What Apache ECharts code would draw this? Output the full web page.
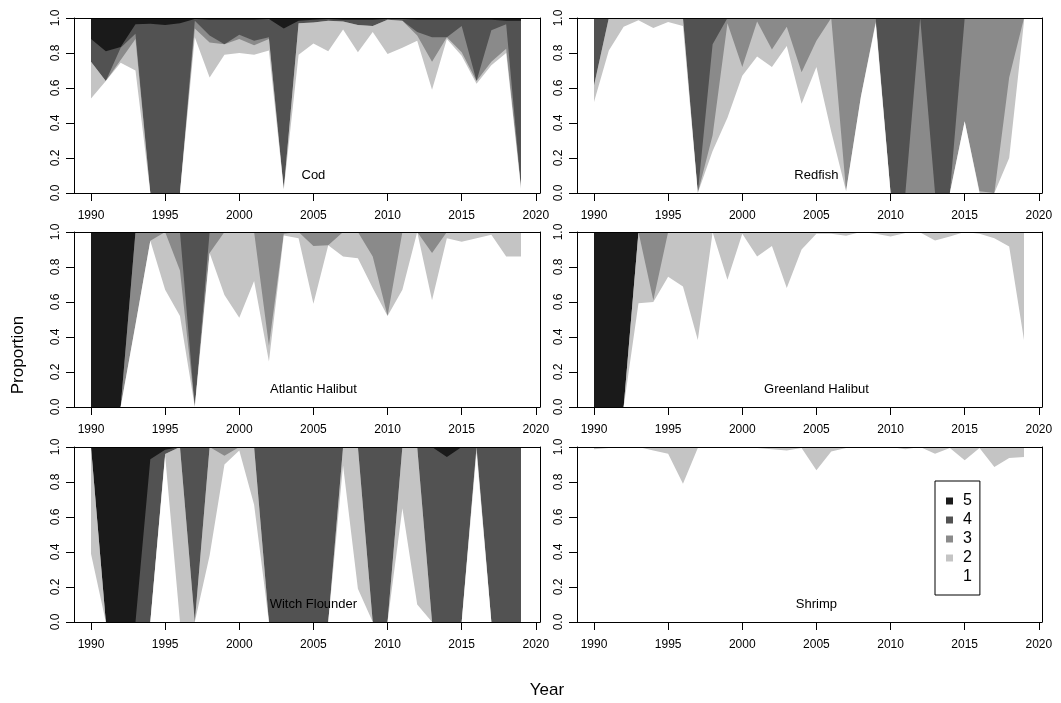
<!DOCTYPE html>
<html>
<head>
<meta charset="utf-8">
<script src="https://cdn.jsdelivr.net/npm/echarts@6/dist/echarts.min.js"></script>
<style>
  html, body { margin: 0; padding: 0; background: #ffffff; }
  #chart { width: 1061px; height: 703px; }
</style>
</head>
<body>
<div id="chart"></div>
<script>
// Years and axis ticks
const years = [1990,1991,1992,1993,1994,1995,1996,1997,1998,1999,2000,2001,2002,2003,2004,
               2005,2006,2007,2008,2009,2010,2011,2012,2013,2014,2015,2016,2017,2018,2019];
const xTicks = [1990,1995,2000,2005,2010,2015,2020];
const stageNames = ['1','2','3','4','5'];
const stageColors = ['#ffffff','#c4c4c4','#8a8a8a','#525252','#1a1a1a'];

// Proportion of each stage (1..5) per year
const codS1 = [.54,.64,.745,.70,0,0,0,.89,.66,.79,.80,.79,.815,.02,.79,.855,.81,.935,.805,.92,.795,.83,.87,.59,.88,.785,.625,.73,.80,.025];
const codS2 = [.21,0,.015,.18,0,0,0,.05,.20,.06,.08,.055,.065,0,.18,.12,.175,.045,.155,.035,.195,.155,.03,.16,.01,.02,.015,.02,.025,.005];
const codS3 = [0,0,.07,.03,0,0,0,.045,.04,0,.025,.025,.01,0,0,0,0,0,0,0,0,0,.02,.14,0,.15,0,.18,.14,0];
const codS4 = [.13,.17,.005,.055,.967,.96,.97,.01,.09,.14,.085,.12,.105,.92,.015,.015,.01,.01,.03,.035,.005,.01,.07,.10,.10,.035,.35,.06,.02,.955];
const codS5 = [.12,.19,.165,.035,.033,.04,.03,.005,.01,.01,.01,.01,.005,.06,.015,.01,.005,.01,.01,.01,.005,.005,.01,.01,.01,.01,.01,.01,.015,.015];

const redS1 = [.52,.815,.95,.987,.943,.977,.954,0,.24,.43,.67,.78,.72,.84,.51,.72,.35,.01,.55,.97,0,0,0,0,0,.41,0,0,.20,.98];
const redS2 = [.095,.185,.05,.013,.057,.023,.046,0,.09,.54,.05,.20,.10,.11,.18,.15,.65,0,0,.01,0,0,0,0,0,0,.01,0,.46,.02];
const redS3 = [0,0,0,0,0,0,0,0,.52,.03,.28,.02,.18,.05,.31,.13,0,.99,.45,.02,0,0,1,0,0,.59,.99,1,.34,0];
const redS4 = [.385,0,0,0,0,0,0,1,.15,0,0,0,0,0,0,0,0,0,0,0,1,1,0,1,1,0,0,0,0,0];
const redS5 = [0,0,0,0,0,0,0,0,0,0,0,0,0,0,0,0,0,0,0,0,0,0,0,0,0,0,0,0,0,0];

const atlS1 = [0,0,0,.47,.95,.67,.52,0,.88,.64,.51,.72,.26,.98,.965,.59,.925,.86,.85,.68,.52,.67,1,.61,.965,.945,.965,.985,.86,.86];
const atlS2 = [0,0,0,0,0,.33,.26,0,0,.36,.49,.28,.09,.01,.035,.33,0,.14,.15,.18,0,.33,0,.27,.035,.055,.035,.015,.14,.14];
const atlS3 = [0,0,0,.53,.05,0,.22,0,.12,0,0,0,.65,.01,0,.08,.075,0,0,.14,.48,0,0,.12,0,0,0,0,0,0];
const atlS4 = [0,0,0,0,0,0,0,1,0,0,0,0,0,0,0,0,0,0,0,0,0,0,0,0,0,0,0,0,0,0];
const atlS5 = [1,1,1,0,0,0,0,0,0,0,0,0,0,0,0,0,0,0,0,0,0,0,0,0,0,0,0,0,0,0];

const grlS1 = [0,0,0,.593,.60,.745,.688,.383,.998,.727,.99,.86,.92,.68,.90,.99,.99,.978,1,.99,.975,.995,.997,.952,.975,1,.99,.965,.917,.383];
const grlS2 = [0,0,0,.407,.01,.255,.312,.617,.002,.273,.01,.14,.08,.32,.10,.01,.01,.022,0,.01,.025,.005,.003,.048,.025,0,.01,.035,.083,.617];
const grlS3 = [0,0,0,0,.39,0,0,0,0,0,0,0,0,0,0,0,0,0,0,0,0,0,0,0,0,0,0,0,0,0];
const grlS4 = [0,0,0,0,0,0,0,0,0,0,0,0,0,0,0,0,0,0,0,0,0,0,0,0,0,0,0,0,0,0];
const grlS5 = [1,1,1,0,0,0,0,0,0,0,0,0,0,0,0,0,0,0,0,0,0,0,0,0,0,0,0,0,0,0];

const witS1 = [.39,0,0,0,0,.95,0,0,.38,.90,.98,.67,0,0,0,0,0,.895,.19,0,0,.65,.10,0,0,0,.97,0,0,0];
const witS2 = [.61,0,0,0,0,.01,1,0,.62,.05,.02,.33,0,0,0,0,0,.105,.81,0,0,.35,.90,0,0,0,.03,0,0,0];
const witS3 = [0,0,0,0,0,0,0,0,0,.05,0,0,0,0,0,0,0,0,0,0,0,0,0,0,0,0,0,0,0,0];
const witS4 = [0,0,0,0,.93,.025,0,1,0,0,0,0,1,1,1,1,1,0,0,1,1,0,0,1,.943,1,0,1,1,1];
const witS5 = [0,1,1,1,.07,.015,0,0,0,0,0,0,0,0,0,0,0,0,0,0,0,0,0,0,.057,0,0,0,0,0];

const shrS1 = [.987,.995,1,1,.98,.962,.79,.995,.995,1,1,.995,.987,.98,.995,.867,.975,.995,1,1,1,.987,1,.962,.995,.924,.995,.886,.937,.943];
const shrS2 = [.013,.005,0,0,.02,.038,.21,.005,.005,0,0,.005,.013,.02,.005,.133,.025,.005,0,0,0,.013,0,.038,.005,.076,.005,.114,.063,.057];
const shrS3 = [0,0,0,0,0,0,0,0,0,0,0,0,0,0,0,0,0,0,0,0,0,0,0,0,0,0,0,0,0,0];
const shrS4 = [0,0,0,0,0,0,0,0,0,0,0,0,0,0,0,0,0,0,0,0,0,0,0,0,0,0,0,0,0,0];
const shrS5 = [0,0,0,0,0,0,0,0,0,0,0,0,0,0,0,0,0,0,0,0,0,0,0,0,0,0,0,0,0,0];

const panelNames = ['Cod', 'Redfish', 'Atlantic Halibut', 'Greenland Halibut', 'Witch Flounder', 'Shrimp'];
const panelStages = [
  [codS1, codS2, codS3, codS4, codS5],
  [redS1, redS2, redS3, redS4, redS5],
  [atlS1, atlS2, atlS3, atlS4, atlS5],
  [grlS1, grlS2, grlS3, grlS4, grlS5],
  [witS1, witS2, witS3, witS4, witS5],
  [shrS1, shrS2, shrS3, shrS4, shrS5]
];

// Layout: 1990 sits 17px inside each frame and 29 years span 430px,
// so the first and last year fall on whole pixels.
const FONT = '"Liberation Sans", Arial, Helvetica, sans-serif';
const colLeft = [74, 577];
const colWidth = [466, 465];
const rowTop = [18, 232, 447];
const plotH = 175;
const PX_PER_YEAR = 430 / 29;
const X_MIN = 1990 - 17 / PX_PER_YEAR;
const xMaxFor = col => X_MIN + colWidth[col] / PX_PER_YEAR;

const chart = echarts.init(document.getElementById('chart'), null, { renderer: 'canvas' });

const grids = [], xAxes = [], yAxes = [], series = [];
const frameLine = { show: true, onZero: false, lineStyle: { color: '#000', width: 1 } };

panelStages.forEach((stages, i) => {
  const col = i % 2, row = Math.floor(i / 2);
  const xMax = xMaxFor(col);
  grids.push({ left: colLeft[col], top: rowTop[row], width: colWidth[col], height: plotH, containLabel: false });

  xAxes.push({
    type: 'value', gridIndex: i, position: 'bottom', min: X_MIN, max: xMax, z: 10,
    axisLine: frameLine,
    axisTick: { show: true, customValues: xTicks, length: 8, lineStyle: { color: '#000', width: 1 } },
    axisLabel: { show: true, customValues: xTicks, margin: 17, fontSize: 12, color: '#000', fontFamily: FONT,
                 formatter: v => String(Math.round(v)) },
    splitLine: { show: false }
  });
  xAxes.push({
    type: 'value', gridIndex: i, position: 'top', min: X_MIN, max: xMax, z: 10,
    axisLine: frameLine, axisTick: { show: false }, axisLabel: { show: false }, splitLine: { show: false }
  });
  yAxes.push({
    type: 'value', gridIndex: i, position: 'left', min: 0, max: 1, interval: 0.2, z: 10,
    axisLine: frameLine,
    axisTick: { show: true, length: 8, lineStyle: { color: '#000', width: 1 } },
    axisLabel: { show: true, rotate: 90, margin: 12, fontSize: 12, color: '#000', fontFamily: FONT,
                 formatter: v => v.toFixed(1) },
    splitLine: { show: false }
  });
  yAxes.push({
    type: 'value', gridIndex: i, position: 'right', min: 0, max: 1, z: 10,
    axisLine: frameLine, axisTick: { show: false }, axisLabel: { show: false }, splitLine: { show: false }
  });

  // Cumulative areas drawn from the top stage down, each covering the ones beneath
  for (let k = 4; k >= 0; k--) {
    const data = years.map((yr, j) => {
      let s = 0;
      for (let m = 0; m <= k; m++) s += stages[m][j];
      return [yr, +s.toFixed(4)];
    });
    series.push({
      type: 'line', name: stageNames[k], xAxisIndex: 2 * i, yAxisIndex: 2 * i,
      data: data, symbol: 'none', showSymbol: false, silent: true,
      color: stageColors[k], itemStyle: { color: stageColors[k] },
      lineStyle: { width: 0 },
      areaStyle: { color: stageColors[k], opacity: 1 },
      z: 2
    });
  }
});

chart.setOption({
  animation: false,
  backgroundColor: '#ffffff',
  textStyle: { fontFamily: FONT },
  grid: grids,
  xAxis: xAxes,
  yAxis: yAxes,
  legend: {
    orient: 'vertical', left: 935, top: 481,
    data: ['5', '4', '3', '2', '1'],
    icon: 'rect', itemWidth: 7, itemHeight: 7, itemGap: 3,
    padding: [12, 8, 10, 11],
    borderColor: '#000', borderWidth: 1, backgroundColor: '#ffffff',
    selectedMode: false,
    itemStyle: { borderWidth: 0 },
    textStyle: { fontSize: 16, lineHeight: 16, color: '#000', fontFamily: FONT, padding: [0, 0, 0, 5] },
    z: 20
  },
  series: series
});

// Panel names placed at year 2005, proportion 0.1 of each panel
const labels = panelNames.map((name, i) => {
  const pt = chart.convertToPixel({ xAxisIndex: 2 * i, yAxisIndex: 2 * i }, [2005, 0.1]);
  return {
    type: 'text', x: pt[0], y: pt[1], z: 30,
    style: { text: name, fontSize: 13, fontFamily: FONT, fill: '#000', align: 'center', verticalAlign: 'middle' }
  };
});
labels.push({
  type: 'text', x: 547, y: 690, z: 30,
  style: { text: 'Year', fontSize: 17, fontFamily: FONT, fill: '#000', align: 'center', verticalAlign: 'middle' }
});
labels.push({
  type: 'text', x: 18, y: 355, rotation: Math.PI / 2, z: 30,
  style: { text: 'Proportion', fontSize: 17, fontFamily: FONT, fill: '#000', align: 'center', verticalAlign: 'middle' }
});
chart.setOption({ graphic: labels });
</script>
</body>
</html>
